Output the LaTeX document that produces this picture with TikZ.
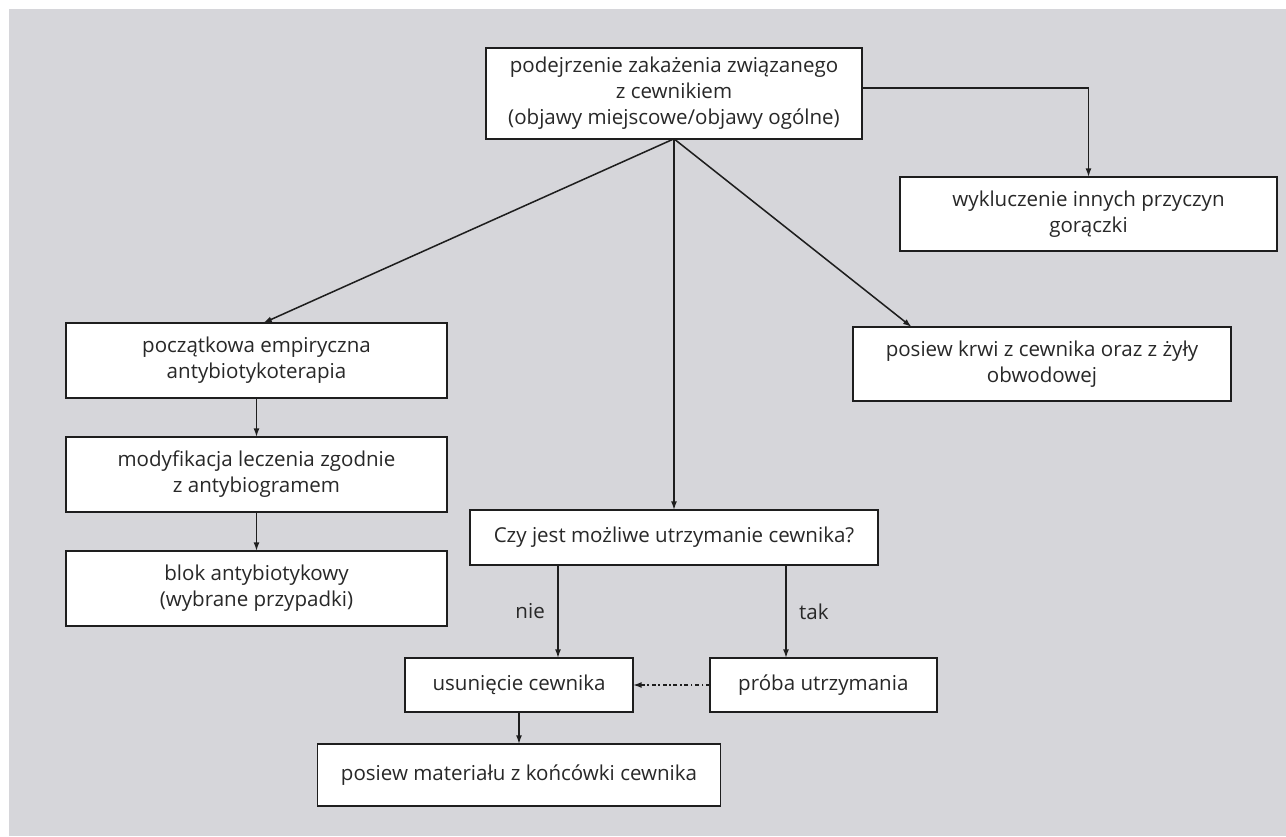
\documentclass[tikz,border=0pt]{standalone}
\usepackage{fontspec}
\setmainfont{Open Sans}
\usetikzlibrary{arrows.meta,positioning}
\definecolor{bggray}{RGB}{214,214,218}
\definecolor{txtgray}{RGB}{40,40,40}
\definecolor{linegray}{RGB}{30,30,30}

\begin{document}
\begin{tikzpicture}[x=0.75pt,y=-0.75pt,
  block/.style={draw=linegray,line width=1.4pt,fill=white,rectangle,align=center,
    inner sep=2pt,outer sep=0pt,text=txtgray,font=\fontsize{15.4}{19.5}\selectfont},
  arr/.style={draw=linegray,line width=1.15pt,-{Latex[length=6.5pt,width=4.5pt]}},
  lbl/.style={text=txtgray,font=\fontsize{15.4}{19.5}\selectfont}]

  \useasboundingbox (0,0) rectangle (1286,836);
  \fill[bggray] (9,9) rectangle (1286,836);

  % top of the chart
  \node[block,minimum width=282pt,minimum height=68pt] (susp) at (674,93.5)
    {podejrzenie zakażenia związanego\\ z cewnikiem\\ (objawy miejscowe/objawy ogólne)};
  \node[block,minimum width=283pt,minimum height=55.5pt] (excl) at (1088.5,214)
    {wykluczenie innych przyczyn\\ gorączki};
  \node[block,minimum width=283.5pt,minimum height=55.5pt] (blood) at (1042,364)
    {posiew krwi z cewnika oraz z żyły\\ obwodowej};

  % left column
  \node[block,minimum width=285.75pt,minimum height=56.25pt] (empir) at (256.5,360.5)
    {początkowa empiryczna\\ antybiotykoterapia};
  \node[block,minimum width=285.75pt,minimum height=56.25pt] (modif) [below=29.25pt of empir]
    {modyfikacja leczenia zgodnie\\ z antybiogramem};
  \node[block,minimum width=285.75pt,minimum height=56.25pt] (blok) [below=29.25pt of modif]
    {blok antybiotykowy\\ (wybrane przypadki)};

  % middle
  \node[block,minimum width=306pt,minimum height=41.25pt] (keep) at (674,537.5)
    {Czy jest możliwe utrzymanie cewnika?};
  \node[block,minimum width=171pt,minimum height=40.5pt] (remove) at (519,685)
    {usunięcie cewnika};
  \node[block,minimum width=170pt,minimum height=40.5pt] (trial) [right=57.75pt of remove]
    {próba utrzymania};
  \node[block,minimum width=302.25pt,minimum height=46.5pt] (tip) [below=24pt of remove]
    {posiew materiału z końcówki cewnika};

  \draw[arr] ([yshift=4pt]susp.east) -| (excl.north);
  \draw[arr] (susp.south) -- ([xshift=5pt]empir.north);
  \draw[arr] (susp.south) -- ([xshift=44pt]blood.north west);
  \draw[arr] (susp.south) -- (keep.north);

  \draw[arr] (empir) -- (modif);
  \draw[arr] (modif) -- (blok);

  \draw[arr] ([xshift=-87pt]keep.south) -- ([xshift=-87pt]keep.south |- remove.north)
    node[lbl,midway,left=6pt] {nie};
  \draw[arr] ([xshift=84pt]keep.south) -- ([xshift=84pt]keep.south |- trial.north)
    node[lbl,midway,right=6pt] {tak};
  \draw[arr,dash dot] (trial) -- (remove);
  \draw[arr] (remove) -- (tip);
\end{tikzpicture}
\end{document}
